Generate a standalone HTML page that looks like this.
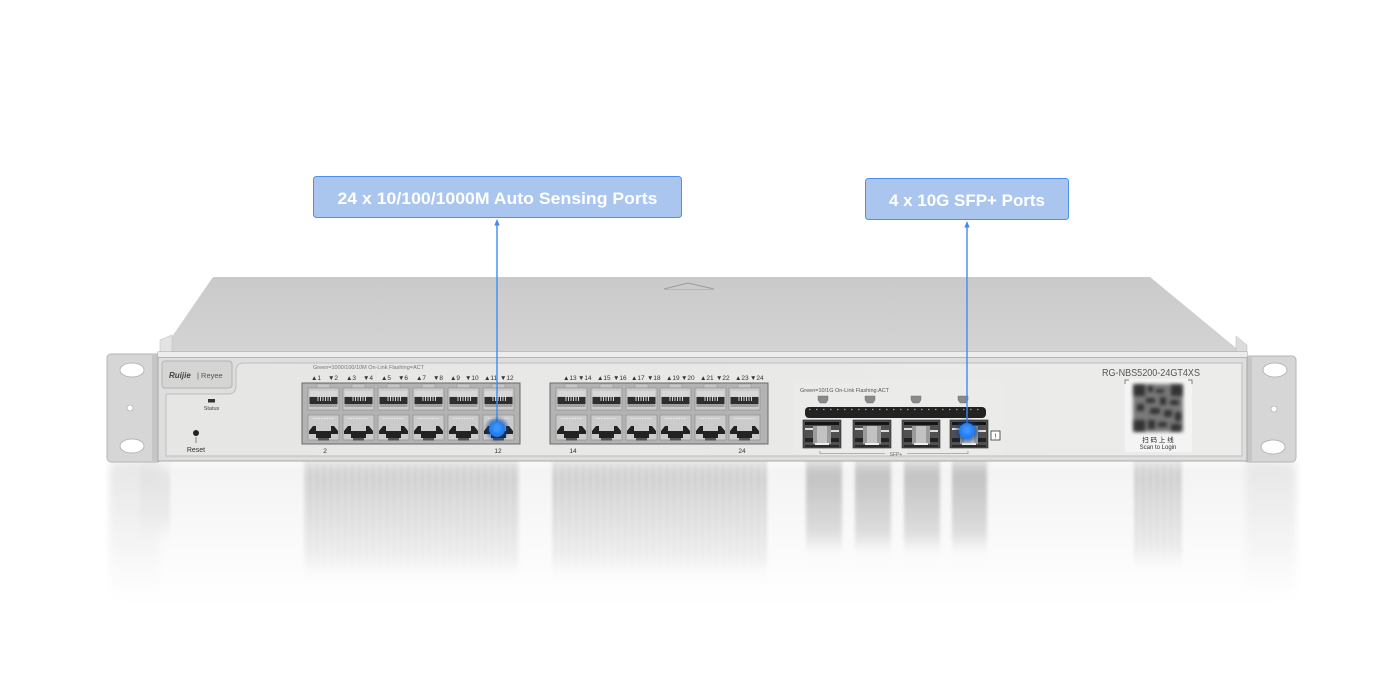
<!DOCTYPE html>
<html><head><meta charset="utf-8"><style>
html,body{margin:0;padding:0;background:#fff;}
svg{display:block;}
text{font-family:"Liberation Sans","Noto Sans CJK SC",sans-serif;}
</style></head><body>
<svg width="1400" height="700" viewBox="0 0 1400 700" xmlns="http://www.w3.org/2000/svg">
<defs>
  <linearGradient id="topg" x1="0" y1="0" x2="0" y2="1">
    <stop offset="0" stop-color="#cacaca"/><stop offset="1" stop-color="#d4d4d4"/>
  </linearGradient>
  <linearGradient id="panelg" x1="0" y1="0" x2="1" y2="0">
    <stop offset="0" stop-color="#e6e6e4"/><stop offset="0.6" stop-color="#e9e9e7"/><stop offset="1" stop-color="#ececea"/>
  </linearGradient>
  <linearGradient id="fadeg" x1="0" y1="0" x2="0" y2="1">
    <stop offset="0" stop-color="#fff" stop-opacity="0.85"/>
    <stop offset="0.4" stop-color="#fff" stop-opacity="0.5"/>
    <stop offset="0.8" stop-color="#fff" stop-opacity="0.12"/>
    <stop offset="1" stop-color="#fff" stop-opacity="0"/>
  </linearGradient>
  <mask id="fadem" maskUnits="userSpaceOnUse" x="0" y="460" width="1400" height="180">
    <rect x="0" y="461" width="1400" height="150" fill="url(#fadeg)"/>
  </mask>
  <filter id="vblur" x="-10%" y="-20%" width="120%" height="140%"><feGaussianBlur stdDeviation="1.5 8"/></filter>
  <filter id="sblur" x="-10%" y="-20%" width="120%" height="140%"><feGaussianBlur stdDeviation="4 6"/></filter>
  <filter id="qrblur"><feGaussianBlur stdDeviation="1.8"/></filter>
  <filter id="glow" x="-100%" y="-100%" width="300%" height="300%"><feGaussianBlur stdDeviation="1.5"/></filter>
  <pattern id="stripes" width="7" height="10" patternUnits="userSpaceOnUse">
    <rect width="7" height="10" fill="#cfcfcf"/>
    <rect x="1" width="2" height="10" fill="#b2b2b2"/>
    <rect x="4.5" width="1" height="10" fill="#c0c0c0"/>
  </pattern>
  <g id="pp">
    <rect x="9" y="-4" width="13" height="4" fill="#c6c6c6" stroke="#8a8a8a" stroke-width="0.4"/>
    <rect x="0" y="0" width="31" height="22" fill="#cbcbcb" stroke="#888" stroke-width="0.6"/>
    <rect x="2" y="3" width="27" height="5" fill="#d8d8d8"/>
    <rect x="1.5" y="9" width="28" height="7" fill="#2e2e2e"/>
    <g stroke="#e6e6e6" stroke-width="0.9">
      <line x1="10" y1="8" x2="10" y2="13"/><line x1="12.5" y1="8" x2="12.5" y2="13"/>
      <line x1="15" y1="8" x2="15" y2="13"/><line x1="17.5" y1="8" x2="17.5" y2="13"/>
      <line x1="20" y1="8" x2="20" y2="13"/><line x1="22.5" y1="8" x2="22.5" y2="13"/>
    </g>
    <rect x="1.5" y="16" width="28" height="3" fill="#a0a0a0"/>
    <rect x="0" y="27" width="31" height="25" fill="#cbcbcb" stroke="#888" stroke-width="0.6"/>
    <line x1="5" y1="30.5" x2="26" y2="30.5" stroke="#eee" stroke-width="1" stroke-dasharray="1.5 1.2"/>
    <path d="M1 46 L1 43 L5 38 L8 38 L8 46Z" fill="#222"/>
    <path d="M30 46 L30 43 L26 38 L23 38 L23 46Z" fill="#222"/>
    <rect x="8" y="43" width="15" height="7" fill="#222"/>
    <rect x="10" y="50" width="11" height="2.5" fill="#555"/>
  </g>
  <g id="sfp">
    <rect x="0" y="0" width="38" height="28" fill="#505050" stroke="#2a2a2a" stroke-width="0.6"/>
    <rect x="2" y="2" width="34" height="3" fill="#151515"/>
    <rect x="10" y="6" width="18" height="18" fill="#9a9a9a"/>
    <rect x="14" y="6" width="10" height="18" fill="#c2c2c2"/>
    <rect x="2" y="8" width="8" height="2" fill="#ddd"/>
    <rect x="28" y="10" width="8" height="2" fill="#ddd"/>
    <rect x="2" y="18" width="8" height="4" fill="#222"/>
    <rect x="28" y="18" width="8" height="4" fill="#222"/>
    <rect x="12" y="23" width="14" height="2" fill="#eee"/>
    <rect x="2" y="25" width="34" height="2" fill="#2a2a2a"/>
  </g>
</defs>

<!-- reflection -->
<g mask="url(#fadem)">
  <rect x="112" y="462" width="1180" height="150" rx="20" fill="#f1f1f1" filter="url(#sblur)"/>
  <rect x="110" y="462" width="50" height="130" fill="#e2e2e2" filter="url(#sblur)"/>
  <rect x="1246" y="462" width="50" height="130" fill="#e2e2e2" filter="url(#sblur)"/>
  <g filter="url(#vblur)">
    <rect x="304" y="464" width="215" height="105" fill="url(#stripes)"/>
    <rect x="552" y="464" width="215" height="105" fill="url(#stripes)"/>
    <rect x="806" y="464" width="36" height="80" fill="#b0b0b0"/>
    <rect x="855" y="464" width="36" height="80" fill="#b0b0b0"/>
    <rect x="904" y="464" width="36" height="80" fill="#b0b0b0"/>
    <rect x="952" y="464" width="35" height="80" fill="#b0b0b0"/>
    <rect x="1134" y="464" width="48" height="95" fill="url(#stripes)"/>
    <rect x="140" y="470" width="30" height="60" fill="#dadada"/>
  </g>
</g>

<!-- top surface -->
<polygon points="213,277 1150,277 1247,357 158,357" fill="url(#topg)"/>
<polyline points="664,289 688,283 714,289" fill="none" stroke="#9c9c9c" stroke-width="1"/>
<line x1="664" y1="289.5" x2="714" y2="289.5" stroke="#b0b0b0" stroke-width="0.8"/>
<polygon points="160,352 160,340 172,335 172,352" fill="#e3e3e3" stroke="#bbb" stroke-width="0.5"/>
<polygon points="1236,352 1236,336 1247,345 1247,357" fill="#dcdcdc" stroke="#bbb" stroke-width="0.5"/>

<!-- ears -->
<rect x="107" y="354" width="54" height="108" rx="4" fill="#d6d6d6" stroke="#b5b5b5" stroke-width="1"/>
<rect x="152" y="355" width="8" height="106" fill="#c6c6c6"/>
<ellipse cx="132" cy="370" rx="12" ry="7" fill="#fff" stroke="#aaa" stroke-width="0.8"/>
<circle cx="130" cy="408" r="3" fill="#fff" stroke="#aaa" stroke-width="0.6"/>
<ellipse cx="132" cy="446" rx="12" ry="7" fill="#fff" stroke="#aaa" stroke-width="0.8"/>
<rect x="1244" y="356" width="52" height="106" rx="4" fill="#d6d6d6" stroke="#b5b5b5" stroke-width="1"/>
<rect x="1245" y="357" width="7" height="104" fill="#c6c6c6"/>
<ellipse cx="1275" cy="370" rx="12" ry="7" fill="#fff" stroke="#aaa" stroke-width="0.8"/>
<circle cx="1274" cy="409" r="3" fill="#fff" stroke="#aaa" stroke-width="0.6"/>
<ellipse cx="1273" cy="447" rx="12" ry="7" fill="#fff" stroke="#aaa" stroke-width="0.8"/>

<!-- front face -->
<rect x="158" y="352" width="1089" height="109" fill="#dedede" stroke="#a8a8a8" stroke-width="1"/>
<rect x="158" y="352" width="1089" height="5" fill="#ececec"/>
<line x1="158" y1="357.5" x2="1247" y2="357.5" stroke="#b5b5b5" stroke-width="1"/>
<path d="M166 394 L166 456 L1242 456 L1242 363 L244 363 Q236 363 236 371 L236 386 Q236 394 228 394 Z" fill="url(#panelg)" stroke="#bdbdbb" stroke-width="1"/>
<rect x="162" y="361" width="70" height="27" rx="3" fill="#d5d5d3" stroke="#b3b3b1" stroke-width="1"/>
<text x="169" y="378" font-size="8" font-weight="bold" font-style="italic" fill="#444">Ruijie</text>
<text x="197" y="378" font-size="7.5" fill="#555">| Reyee</text>

<rect x="208" y="399" width="7" height="3.5" fill="#333"/>
<text x="211.5" y="410" font-size="5.5" fill="#444" text-anchor="middle">Status</text>
<circle cx="196" cy="433" r="3" fill="#222"/>
<line x1="196" y1="437" x2="196" y2="443" stroke="#555" stroke-width="0.7"/>
<text x="196" y="452" font-size="7" fill="#333" text-anchor="middle">Reset</text>

<!-- left port block -->
<text x="313" y="369" font-size="5.5" fill="#777">Green=1000/100/10M  On-Link  Flashing=ACT</text>
<rect x="302" y="383" width="218" height="61" fill="#b3b3b3" stroke="#6a6a6a" stroke-width="1"/>
<use href="#pp" x="308" y="388"/><use href="#pp" x="343" y="388"/><use href="#pp" x="378" y="388"/>
<use href="#pp" x="413" y="388"/><use href="#pp" x="448" y="388"/><use href="#pp" x="483" y="388"/>
<g font-size="6.5" fill="#333">
<text x="311" y="380">▲1</text><text x="328" y="380">▼2</text>
<text x="346" y="380">▲3</text><text x="363" y="380">▼4</text>
<text x="381" y="380">▲5</text><text x="398" y="380">▼6</text>
<text x="416" y="380">▲7</text><text x="433" y="380">▼8</text>
<text x="450" y="380">▲9</text><text x="465" y="380">▼10</text>
<text x="484" y="380">▲11</text><text x="500" y="380">▼12</text>
<text x="563" y="380">▲13</text><text x="578" y="380">▼14</text>
<text x="597" y="380">▲15</text><text x="613" y="380">▼16</text>
<text x="631" y="380">▲17</text><text x="647" y="380">▼18</text>
<text x="666" y="380">▲19</text><text x="681" y="380">▼20</text>
<text x="700" y="380">▲21</text><text x="716" y="380">▼22</text>
<text x="735" y="380">▲23</text><text x="750" y="380">▼24</text>
</g>
<g font-size="6.5" fill="#333" text-anchor="middle">
<text x="325" y="453">2</text><text x="498" y="453">12</text>
<text x="573" y="453">14</text><text x="742" y="453">24</text>
</g>

<!-- right port block -->
<rect x="550" y="383" width="218" height="61" fill="#b3b3b3" stroke="#6a6a6a" stroke-width="1"/>
<use href="#pp" x="556" y="388"/><use href="#pp" x="591" y="388"/><use href="#pp" x="626" y="388"/>
<use href="#pp" x="660" y="388"/><use href="#pp" x="695" y="388"/><use href="#pp" x="729" y="388"/>

<!-- SFP area -->
<rect x="793" y="380" width="210" height="74" fill="#ebebe9"/>
<text x="800" y="392" font-size="5.5" fill="#555">Green=10/1G  On-Link  Flashing:ACT</text>
<g fill="#8a8a8a" stroke="#666" stroke-width="0.4">
<path d="M818 396 h10 v4 l-2 3 h-6 l-2 -3z"/>
<path d="M865 396 h10 v4 l-2 3 h-6 l-2 -3z"/>
<path d="M911 396 h10 v4 l-2 3 h-6 l-2 -3z"/>
<path d="M958 396 h10 v4 l-2 3 h-6 l-2 -3z"/>
</g>
<rect x="805" y="407" width="181" height="11" rx="4" fill="#222"/>
<line x1="809" y1="409.5" x2="982" y2="409.5" stroke="#9a9a9a" stroke-width="1.2" stroke-dasharray="1.5 5.5"/>
<use href="#sfp" x="803" y="420"/><use href="#sfp" x="853" y="420"/>
<use href="#sfp" x="902" y="420"/><use href="#sfp" x="950" y="420"/>
<path d="M820 451 v2.5 h65 M907 453.5 h61 v-2.5" fill="none" stroke="#777" stroke-width="0.6"/>
<text x="896" y="456" font-size="5" fill="#666" text-anchor="middle">SFP+</text>
<rect x="991" y="431" width="9" height="9" fill="#fff" stroke="#333" stroke-width="0.8"/>
<text x="995.5" y="438.5" font-size="7" fill="#333" text-anchor="middle">!</text>

<!-- model / QR -->
<text x="1102" y="376" font-size="10" fill="#555" textLength="98" lengthAdjust="spacingAndGlyphs">RG-NBS5200-24GT4XS</text>
<rect x="1125" y="379" width="67" height="73" fill="#f4f4f4"/>
<path d="M1125 384 v-4 h4 M1192 384 v-4 h-4" fill="none" stroke="#555" stroke-width="0.7"/>
<rect x="1133" y="384" width="50" height="48" fill="#7a7a7a" filter="url(#qrblur)"/>
<g filter="url(#qrblur)" fill="#333">
<rect x="1134" y="385" width="11" height="11"/><rect x="1171" y="385" width="11" height="11"/><rect x="1134" y="420" width="11" height="11"/>
<rect x="1148" y="386" width="5" height="6"/><rect x="1156" y="389" width="8" height="4"/><rect x="1146" y="398" width="9" height="5"/>
<rect x="1160" y="397" width="6" height="8"/><rect x="1170" y="400" width="9" height="5"/><rect x="1137" y="404" width="7" height="7"/>
<rect x="1150" y="408" width="10" height="6"/><rect x="1164" y="410" width="8" height="7"/><rect x="1175" y="412" width="6" height="9"/>
<rect x="1148" y="420" width="7" height="9"/><rect x="1158" y="422" width="9" height="5"/><rect x="1171" y="424" width="10" height="7"/>
</g>
<text x="1158" y="442" font-size="6.5" fill="#222" text-anchor="middle">扫 码 上 线</text>
<text x="1158" y="449" font-size="6" fill="#333" text-anchor="middle">Scan to Login</text>

<!-- callouts -->
<rect x="313.5" y="176.5" width="368" height="41" rx="3" fill="#aac6ee" stroke="#4c90ee" stroke-width="1"/>
<text x="497.5" y="204" font-size="17" font-weight="bold" fill="#fff" text-anchor="middle" textLength="320" lengthAdjust="spacingAndGlyphs">24 x 10/100/1000M Auto Sensing Ports</text>
<rect x="865.5" y="178.5" width="203" height="41" rx="3" fill="#aac6ee" stroke="#4c90ee" stroke-width="1"/>
<text x="967" y="206" font-size="17" font-weight="bold" fill="#fff" text-anchor="middle" textLength="156" lengthAdjust="spacingAndGlyphs">4 x 10G SFP+ Ports</text>

<line x1="497" y1="224" x2="497" y2="428" stroke="#3f8cf2" stroke-width="1.4"/>
<polygon points="497,219 494.3,225.5 499.7,225.5" fill="#3f8cf2"/>
<line x1="967" y1="226" x2="967" y2="430" stroke="#3f8cf2" stroke-width="1.4"/>
<polygon points="967,221 964.3,227.5 969.7,227.5" fill="#3f8cf2"/>

<circle cx="497" cy="429" r="11" fill="#0b3f8e" opacity="0.55" filter="url(#glow)"/>
<circle cx="497" cy="429" r="8" fill="#1f7cf0"/>
<circle cx="497" cy="428" r="5" fill="#3d95ff" filter="url(#glow)"/>
<circle cx="967" cy="431" r="11" fill="#0b3f8e" opacity="0.55" filter="url(#glow)"/>
<circle cx="967" cy="431" r="8" fill="#1f7cf0"/>
<circle cx="967" cy="430" r="5" fill="#3d95ff" filter="url(#glow)"/>
</svg>
</body></html>
